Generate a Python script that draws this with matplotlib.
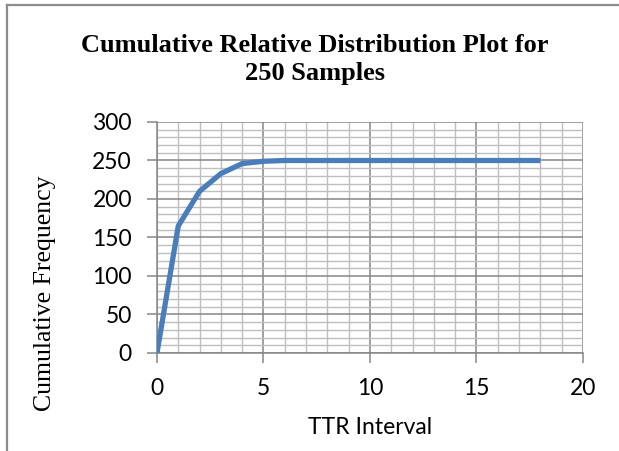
import matplotlib.pyplot as plt
import matplotlib.ticker as mticker
from matplotlib.lines import Line2D

# TTR interval vs cumulative frequency
ttr_interval = [0, 1, 2, 3, 4, 5, 6, 7, 8, 9, 10, 11, 12, 13, 14, 15, 16, 17, 18]
cum_freq = [0, 165, 210, 233, 246, 249, 250, 250, 250, 250, 250,
            250, 250, 250, 250, 250, 250, 250, 250]

x_ticks = [0, 5, 10, 15, 20]
y_ticks = [0, 50, 100, 150, 200, 250, 300]

LINE_COL = "#4A7EBB"
MAJOR_COL = "#868686"
MINOR_COL = "#BEBEBE"
SERIF = ["Liberation Serif", "DejaVu Serif"]
SANS = ["Lato", "DejaVu Sans"]

fig = plt.figure(figsize=(6.19, 4.51), dpi=100)
ax = fig.add_axes([0.2536, 0.2173, 0.6882, 0.5122])

ax.plot(ttr_interval, cum_freq, color=LINE_COL, linewidth=3.8,
        solid_capstyle="butt", solid_joinstyle="round", zorder=3)

ax.set_xlim(0, 20)
ax.set_ylim(0, 300)
ax.set_xticks(x_ticks)
ax.set_yticks(y_ticks)
ax.xaxis.set_minor_locator(mticker.MultipleLocator(1))
ax.yaxis.set_minor_locator(mticker.MultipleLocator(10))

ax.grid(which="major", color=MAJOR_COL, linewidth=1.1, zorder=0)
ax.grid(which="minor", color=MINOR_COL, linewidth=1.0, zorder=0)
ax.set_axisbelow(True)

for side in ("top", "right"):
    ax.spines[side].set_visible(False)
for side in ("left", "bottom"):
    ax.spines[side].set_color(MAJOR_COL)
    ax.spines[side].set_linewidth(1.1)

ax.tick_params(which="major", length=7, width=1.1, color=MAJOR_COL,
               labelsize=16.5)
ax.tick_params(axis="x", pad=11)
ax.tick_params(axis="y", pad=11)
ax.tick_params(which="minor", length=0)
for lbl in ax.get_xticklabels() + ax.get_yticklabels():
    lbl.set_family(SANS)

fig.text(0.598, 0.053, "TTR Interval", ha="center", va="center",
         fontsize=16.5, family=SANS)
fig.text(0.073, 0.350, "Cumulative Frequency", ha="center", va="center",
         rotation=90, fontsize=18.5, family=SERIF)

fig.text(0.509, 0.868, "Cumulative Relative Distribution Plot for\n250 Samples",
         ha="center", va="center", fontsize=19, fontweight="bold",
         family=SERIF, linespacing=1.25)

# chart border (only top and left edges visible in the crop)
fig.add_artist(Line2D([0.011, 1.0], [0.989, 0.989], transform=fig.transFigure,
                      color="#8C8C8C", linewidth=1.6))
fig.add_artist(Line2D([0.011, 0.011], [0.0, 0.989], transform=fig.transFigure,
                      color="#8C8C8C", linewidth=1.6))

fig.savefig("out.png", dpi=100, facecolor="white")
